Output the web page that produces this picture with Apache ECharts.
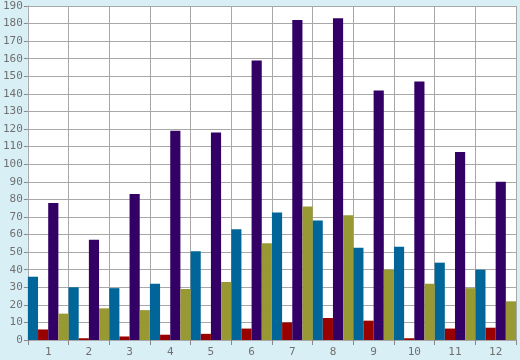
<!DOCTYPE html>
<html>
<head>
<meta charset="utf-8">
<script src="https://cdn.jsdelivr.net/npm/echarts@6/dist/echarts.min.js"></script>
<style>
html,body{margin:0;padding:0;background:#d9eff6;}
#c{width:520px;height:360px;}
</style>
</head>
<body>
<div id="c"></div>
<script>
var categories = ['1','2','3','4','5','6','7','8','9','10','11','12'];
var blueValues = [36, 30, 29.5, 32, 50.5, 63, 72.5, 68, 52.5, 53, 44, 40];
var redValues = [6, 1, 2, 3, 3.5, 6.5, 10, 12.5, 11, 1, 6.5, 7];
var purpleValues = [78, 57, 83, 119, 118, 159, 182, 183, 142, 147, 107, 90];
var oliveValues = [15, 18, 17, 29, 33, 55, 76, 71, 40, 32, 29.5, 22];

var chart = echarts.init(document.getElementById('c'), null, {renderer: 'canvas'});
var font = 'DejaVu Sans Mono';
function bar(name, data, color) {
  return {
    name: name, type: 'bar', data: data,
    barGap: '0%', barCategoryGap: '0%',
    itemStyle: {color: color},
    animation: false
  };
}
chart.setOption({
  backgroundColor: '#d9eff6',
  animation: false,
  grid: {left: 26, right: 4, top: 6, bottom: 20, backgroundColor: '#ffffff', show: true, borderWidth: 0},
  xAxis: {
    type: 'category', data: categories, boundaryGap: true,
    axisLine: {show: true, lineStyle: {color: '#a8a8a8', width: 1}},
    axisTick: {show: true, length: 5, lineStyle: {color: '#888888'}},
    axisLabel: {color: '#707070', fontFamily: font, fontSize: 11, margin: 7},
    splitLine: {show: true, lineStyle: {color: '#a8a8a8', width: 1}}
  },
  yAxis: {
    type: 'value', min: 0, max: 190, interval: 10,
    axisLine: {show: true, lineStyle: {color: '#a8a8a8', width: 1}},
    axisTick: {show: true, length: 4, lineStyle: {color: '#888888'}},
    axisLabel: {color: '#707070', fontFamily: font, fontSize: 11, margin: 5},
    splitLine: {show: true, lineStyle: {color: '#a8a8a8', width: 1}}
  },
  series: [
    bar('A', blueValues, '#006699'),
    bar('B', redValues, '#990000'),
    bar('C', purpleValues, '#330066'),
    bar('D', oliveValues, '#999933')
  ]
});
</script>
</body>
</html>
